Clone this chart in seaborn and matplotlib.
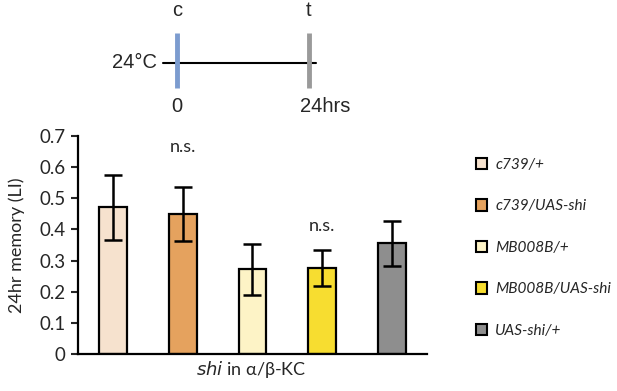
import numpy as np
import pandas as pd
import matplotlib
matplotlib.use("Agg")
import matplotlib.pyplot as plt
import seaborn as sns
from matplotlib.patches import Patch

# --- data ---
genotypes = ["c739/+", "c739/UAS-shi", "MB008B/+", "MB008B/UAS-shi", "UAS-shi/+"]
memory_li = [0.471, 0.449, 0.272, 0.277, 0.355]
sem = [0.105, 0.086, 0.082, 0.058, 0.072]
bar_colors = ["#F6E2CE", "#E5A25E", "#FDF3C6", "#F7DD30", "#8E8E8E"]
ns_bars = [1, 3]
ns_y = [0.666, 0.410]

# protocol schematic
time_points = [0, 24]
time_marks = ["c", "t"]
time_labels = ["0", "24hrs"]
mark_colors = ["#7C9CCF", "#9A9A9A"]

df = pd.DataFrame({"genotype": genotypes, "li": memory_li})

sns.set_theme(style="white")
plt.rcParams["font.family"] = ["Lato", "DejaVu Sans"]

fig = plt.figure(figsize=(6.17, 3.91), dpi=100)
W, H = 617, 391

# main bar chart
ax = fig.add_axes([78 / W, 37 / H, 349 / W, 218 / H])
sns.barplot(data=df, x="genotype", y="li", hue="genotype", palette=bar_colors,
            order=genotypes, legend=False, width=0.4, saturation=1,
            edgecolor="black", linewidth=1.6, ax=ax)
ax.errorbar(np.arange(len(genotypes)), memory_li, yerr=sem, fmt="none",
            ecolor="black", elinewidth=1.8, capsize=6.5, capthick=1.8)
for i, y in zip(ns_bars, ns_y):
    ax.text(i, y, "n.s.", ha="center", va="center", fontsize=13)

ax.set_xlim(-0.5, 4.5)
ax.set_ylim(0, 0.7)
ax.set_yticks(np.arange(0, 0.71, 0.1))
ax.set_yticklabels(["0"] + [f"{v:.1f}" for v in np.arange(0.1, 0.71, 0.1)])
ax.tick_params(axis="y", which="major", left=True, length=5, width=1.5,
               labelsize=13.5, pad=4)
ax.set_xticks([])
ax.set_xlabel("")
ax.set_ylabel("24hr memory (LI)", fontsize=13, labelpad=10)
for s in ["top", "right"]:
    ax.spines[s].set_visible(False)
for s in ["left", "bottom"]:
    ax.spines[s].set_color("black")
    ax.spines[s].set_linewidth(1.6)

fig.text(251 / W, 1 - 370 / H, r"$\it{shi}$ in α/β-KC", ha="center",
         va="center", fontsize=13, family=["Lato", "DejaVu Sans"])

handles = [Patch(facecolor=c, edgecolor="black", linewidth=1.5) for c in bar_colors]
leg = fig.legend(handles, genotypes, loc="upper left",
                 bbox_to_anchor=(462 / W, 1 - 144 / H), frameon=False,
                 handlelength=0.75, handleheight=0.75, handletextpad=0.5,
                 labelspacing=1.78, prop={"style": "italic", "size": 11.1})

# protocol schematic on top
ax_t = fig.add_axes([0, 1 - 120 / H, 1, 120 / H])
ax_t.set_xlim(-177 / 5.5, (W - 177) / 5.5)
ax_t.set_ylim(120, 0)
ax_t.axis("off")
ax_t.plot([-2.6, 25.2], [63, 63], color="black", lw=1.5)
for t, m, lab, c in zip(time_points, time_marks, time_labels, mark_colors):
    ax_t.plot([t, t], [33, 88], color=c, lw=3.5, solid_capstyle="butt")
    ax_t.text(t, 11, m, ha="center", va="center", fontsize=14.5,
              family="Liberation Sans")
    ax_t.text(t if lab == "0" else t - 1.6, 107, lab,
              ha="center" if lab == "0" else "left", va="center",
              fontsize=14.5, family="Liberation Sans")
ax_t.text(-3.6, 63, "24°C", ha="right", va="center", fontsize=14.5,
          family="Liberation Sans")

fig.savefig("out.png", dpi=100)
